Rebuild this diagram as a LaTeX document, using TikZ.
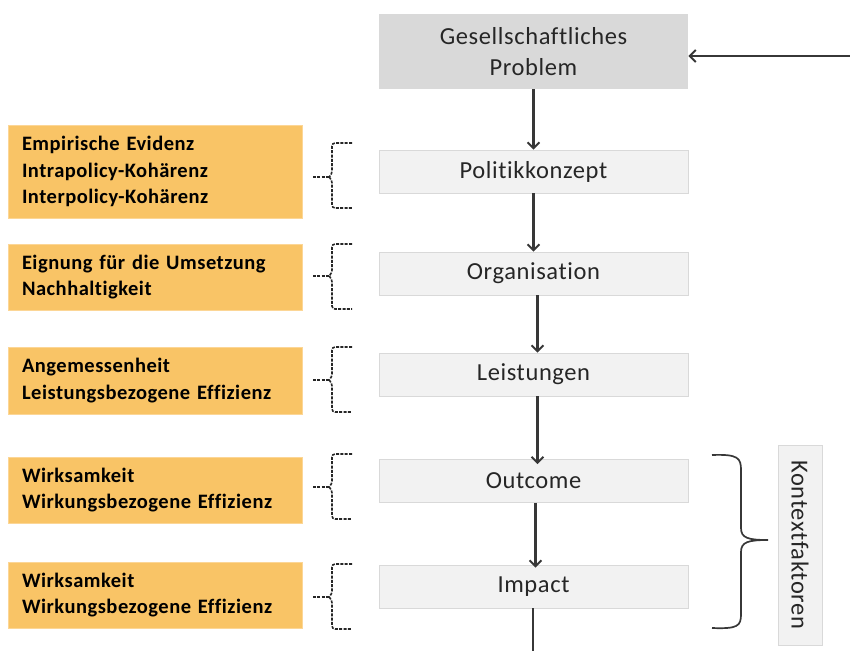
\documentclass[tikz,border=0pt]{standalone}
\usepackage{fontspec}
\setmainfont{Carlito}[Ligatures=NoCommon]
\newfontfamily\trackedfont{Carlito}[Ligatures=NoCommon, LetterSpace=2.5]
\usetikzlibrary{arrows.meta}
\definecolor{orangebox}{RGB}{249,196,102}
\definecolor{orangeedge}{RGB}{252,214,150}
\definecolor{lightbox}{RGB}{242,242,242}
\definecolor{lightedge}{RGB}{217,217,217}
\definecolor{topbox}{RGB}{217,217,217}
\definecolor{darkline}{RGB}{55,55,55}
\definecolor{textgray}{RGB}{38,38,38}
\tikzset{
  stagebox/.style={draw=lightedge, line width=0.8pt, fill=lightbox, minimum width=309pt, minimum height=43pt,
    inner sep=0pt, font=\trackedfont\fontsize{24.5}{31}\selectfont, text=textgray},
  criteria/.style={draw=orangeedge, line width=0.6pt, fill=orangebox, minimum width=294pt, text width=266pt,
    inner xsep=14pt, inner ysep=0pt, align=left, font=\trackedfont\fontsize{20.5}{26.5}\selectfont\bfseries, text=black},
  flowarrow/.style={draw=darkline, line width=2.1pt, -{Straight Barb[length=6pt,width=12pt,line width=1.9pt]}},
  dashbrace/.style={draw=black!85, line width=1.6pt, dash pattern=on 3pt off 1.3pt, rounded corners=3pt},
  ctxbrace/.style={draw=darkline, line width=1.7pt},
}
\begin{document}
\begin{tikzpicture}[x=1pt,y=-1pt]
\useasboundingbox (0,0) rectangle (850,651);
% central column
\node[stagebox, draw=none, fill=topbox, minimum height=75pt, align=center] (problem) at (533.5,51.5) {Gesellschaftliches\\Problem};
\node[stagebox] (konzept) at (533.5,171.5) {Politikkonzept};
\node[stagebox] (org) at (533.5,273.5) {Organisation};
\node[stagebox] (leist) at (533.5,374.5) {Leistungen};
\node[stagebox] (outcome) at (533.5,481) {Outcome};
\node[stagebox] (impact) at (533.5,586.5) {Impact};
% arrows
\coordinate (rightin) at (850,56);
\coordinate (bottomout) at (533,651);
\draw[flowarrow] (rightin) -- (problem.east |- rightin);
\draw[flowarrow] (problem.south) -- (konzept.north);
\draw[flowarrow] (konzept.south) -- (org.north);
\draw[flowarrow] ([xshift=4pt]org.south) -- ([xshift=4pt]leist.north);
\draw[flowarrow] ([xshift=4pt]leist.south) -- ([xshift=4pt,yshift=-5pt]outcome.north);
\draw[flowarrow] ([xshift=2pt]outcome.south) -- ([xshift=2pt,yshift=-3pt]impact.north);
\draw[draw=darkline, line width=2.1pt] (impact.south -| bottomout) -- (bottomout);
% criteria boxes
\node[criteria, minimum height=93pt] (c1) at (155,171.5) {Empirische Evidenz\\Intrapolicy-Kohärenz\\Interpolicy-Kohärenz};
\node[criteria, minimum height=66pt] (c2) at (155,277) {Eignung für die Umsetzung\\Nachhaltigkeit};
\node[criteria, minimum height=67pt] (c3) at (155,380.5) {Angemessenheit\\Leistungsbezogene Effizienz};
\node[criteria, minimum height=66pt] (c4) at (155,490) {Wirksamkeit\\Wirkungsbezogene Effizienz};
\node[criteria, minimum height=66pt] (c5) at (155,595) {Wirksamkeit\\Wirkungsbezogene Effizienz};
% dashed braces
\foreach \t/\m/\b in {143/177/208, 244/276/309, 347/380/412, 454/487/519, 564/597/629}{
  \draw[dashbrace] (352,\t) -- (332,\t) -- (332,\m-3) -- (329,\m);
  \draw[dashbrace] (329,\m) -- (332,\m+3) -- (332,\b) -- (352,\b);
  \draw[dashbrace, rounded corners=0pt] (313,\m) -- (329,\m);
}
% context brace
\draw[ctxbrace] (712,455) .. controls (738,454) and (741,458) .. (741,470)
  -- (741,528) .. controls (741,538) and (748,540) .. (768,540)
  .. controls (748,540) and (741,542) .. (741,552)
  -- (741,614) .. controls (741,626) and (738,629) .. (712,628);
\node[draw=lightedge, line width=0.8pt, fill=lightbox, minimum width=44pt, minimum height=200pt, inner sep=0pt] (ctx) at (800,545) {};
\node[rotate=-90, font=\trackedfont\fontsize{24.5}{30}\selectfont, text=textgray] (ctxlabel) at (ctx.center) {Kontextfaktoren};
\end{tikzpicture}
\end{document}
